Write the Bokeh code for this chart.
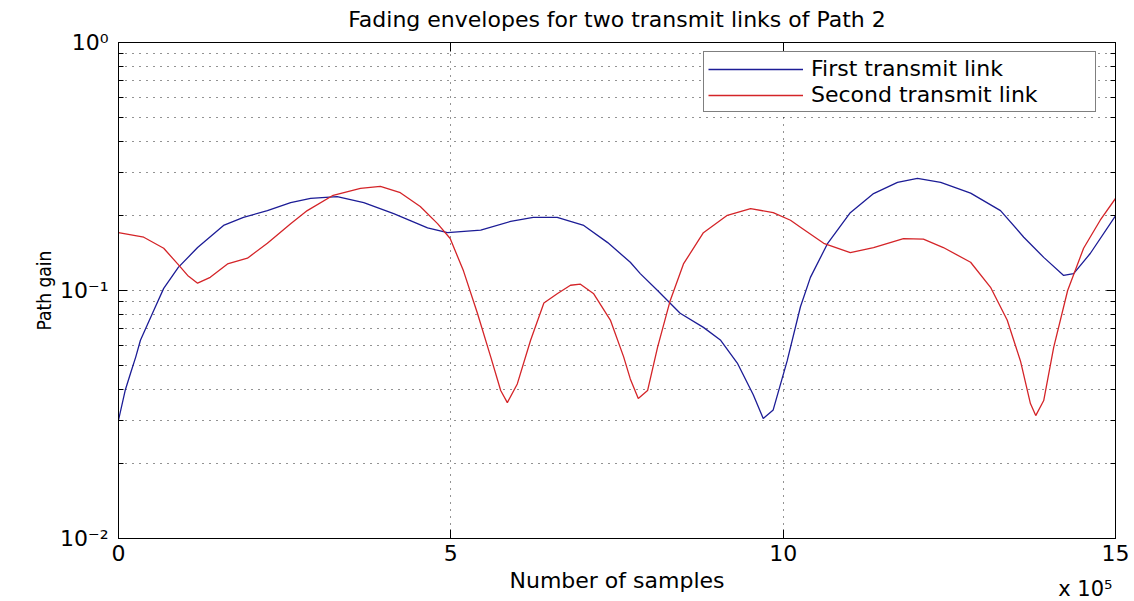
from bokeh.plotting import figure
from bokeh.models import FixedTicker, LinearAxis, LogAxis, Legend, LegendItem, Range1d, Title
from bokeh.embed import file_html
from bokeh.resources import INLINE

# ---- data (x in units of 10^5 samples) ----
x_first = [0.0, 0.10, 0.18, 0.26, 0.33, 0.53, 0.68, 0.90, 1.19, 1.58, 1.88, 2.24, 2.59, 2.89,
           3.29, 3.69, 4.14, 4.65, 4.95, 5.45, 5.90, 6.24, 6.60, 7.00, 7.36, 7.70, 7.85,
           8.11, 8.45, 8.80, 9.06, 9.31, 9.55, 9.70, 9.85, 10.06, 10.26, 10.41, 10.67,
           11.01, 11.36, 11.72, 12.02, 12.37, 12.82, 13.27, 13.62, 13.92, 14.22, 14.37,
           14.62, 15.0]
y_first = [0.030, 0.0395, 0.0463, 0.054, 0.063, 0.083, 0.102, 0.124, 0.149, 0.183, 0.197,
           0.210, 0.226, 0.235, 0.239, 0.226, 0.204, 0.179, 0.171, 0.175, 0.190, 0.197,
           0.197, 0.183, 0.156, 0.130, 0.117, 0.100, 0.081, 0.071, 0.063, 0.051, 0.038,
           0.0305, 0.033, 0.052, 0.086, 0.113, 0.155, 0.206, 0.246, 0.273, 0.283, 0.273,
           0.247, 0.210, 0.164, 0.136, 0.115, 0.117, 0.141, 0.200]

x_second = [0.0, 0.38, 0.68, 0.89, 1.04, 1.19, 1.38, 1.64, 1.94, 2.24, 2.59, 2.84, 3.23,
            3.64, 3.94, 4.24, 4.54, 4.80, 4.99, 5.19, 5.40, 5.60, 5.75, 5.85, 6.00, 6.20,
            6.40, 6.60, 6.80, 6.95, 7.15, 7.40, 7.60, 7.70, 7.82, 7.96, 8.11, 8.30, 8.50,
            8.80, 9.16, 9.51, 9.85, 10.11, 10.26, 10.61, 11.01, 11.36, 11.81, 12.11, 12.41,
            12.82, 13.12, 13.37, 13.57, 13.72, 13.80, 13.92, 14.07, 14.28, 14.52, 14.77, 15.0]
y_second = [0.171, 0.164, 0.148, 0.128, 0.115, 0.107, 0.113, 0.128, 0.135, 0.155, 0.186,
            0.210, 0.242, 0.258, 0.263, 0.248, 0.218, 0.186, 0.162, 0.120, 0.081, 0.054,
            0.0395, 0.0353, 0.042, 0.063, 0.089, 0.097, 0.105, 0.106, 0.097, 0.076, 0.054,
            0.044, 0.0367, 0.0395, 0.059, 0.091, 0.128, 0.171, 0.201, 0.214, 0.206, 0.192,
            0.180, 0.155, 0.142, 0.149, 0.162, 0.161, 0.149, 0.130, 0.103, 0.076, 0.052,
            0.035, 0.0313, 0.036, 0.059, 0.100, 0.148, 0.192, 0.235]

x_ticks = [0, 5, 10, 15]
y_major = [0.01, 0.1, 1.0]
y_minor = [0.02, 0.03, 0.04, 0.05, 0.06, 0.07, 0.08, 0.09,
           0.2, 0.3, 0.4, 0.5, 0.6, 0.7, 0.8, 0.9]
y_labels = {0.01: "10⁻²", 0.1: "10⁻¹", 1.0: "10⁰"}

title_text = "Fading envelopes for two transmit links of Path 2"
x_label = "Number of samples"
y_label = "Path gain"
x_multiplier = "x 10⁵"
series_names = ["First transmit link", "Second transmit link"]

FONT = "DejaVu Sans"
FS = "22px"

p = figure(width=1134, height=601, y_axis_type="log",
           x_range=Range1d(0, 15), y_range=Range1d(0.01, 1),
           output_backend="svg", toolbar_location=None,
           min_border_left=118, min_border_right=19, min_border_top=42, min_border_bottom=63)
p.background_fill_color = "white"
p.border_fill_color = "white"
p.outline_line_color = "black"
p.outline_line_width = 1

p.title.text = title_text
p.title.text_font = FONT
p.title.text_font_size = FS
p.title.text_font_style = "normal"
p.title.align = "center"
p.title.text_color = "black"
p.title.standoff = 0

xt = FixedTicker(ticks=x_ticks, minor_ticks=[])
yt = FixedTicker(ticks=y_major, minor_ticks=y_minor)

xa = p.xaxis[0]
xa.ticker = xt
xa.axis_label = x_label
ya = p.yaxis[0]
ya.ticker = yt
ya.major_label_overrides = y_labels
ya.axis_label = y_label

for ax in (xa, ya):
    ax.axis_line_color = "black"
    ax.major_tick_line_color = "black"
    ax.minor_tick_line_color = "black"
    ax.major_tick_in = 9
    ax.major_tick_out = 0
    ax.minor_tick_in = 5
    ax.minor_tick_out = 0
    ax.major_label_text_font = FONT
    ax.major_label_text_font_size = FS
    ax.major_label_text_color = "black"
    ax.axis_label_text_font_style = "normal"
    ax.axis_label_text_color = "black"

xa.major_label_standoff = 6
xa.axis_label_text_font = FONT
xa.axis_label_text_font_size = FS
xa.axis_label_standoff = 4
ya.major_label_standoff = 10
ya.axis_label_text_font = "Liberation Sans Narrow, DejaVu Sans Condensed, sans-serif"
ya.axis_label_text_font_size = "19px"
ya.axis_label_standoff = 2

# tick marks on the top and right edges (MATLAB box style), labels left empty
top = LinearAxis(ticker=xt, major_label_overrides={t: "" for t in x_ticks},
                 major_label_text_font_size="2px", major_label_standoff=0,
                 major_tick_in=9, major_tick_out=0, minor_tick_out=0, minor_tick_in=0,
                 axis_line_color="black", major_tick_line_color="black")
# invisible spacer axis that lifts the title away from the frame
top_gap = LinearAxis(ticker=xt, major_label_overrides={t: "" for t in x_ticks},
                     major_label_text_font_size="2px", major_label_standoff=0,
                     major_tick_in=0, major_tick_out=11, minor_tick_out=0, minor_tick_in=0,
                     axis_line_color=None, major_tick_line_color=None, minor_tick_line_color=None)
right = LogAxis(ticker=yt, major_label_overrides={t: "" for t in y_major},
                major_label_text_font_size="2px", major_label_standoff=0,
                major_tick_in=9, major_tick_out=0, minor_tick_in=5, minor_tick_out=0,
                axis_line_color="black", major_tick_line_color="black",
                minor_tick_line_color="black")
p.add_layout(top, "above")
p.add_layout(top_gap, "above")
p.add_layout(right, "right")

# the x10^5 multiplier under the right end of the x axis
mult = Title(text=x_multiplier, align="right", vertical_align="top", standoff=-38, offset=3,
             text_font=FONT, text_font_size="21px", text_font_style="normal", text_color="black")
p.add_layout(mult, "below")

for g in (p.xgrid[0], p.ygrid[0]):
    g.grid_line_color = "black"
    g.grid_line_alpha = 0.85
    g.grid_line_dash = "1 6"
    g.grid_line_width = 1
p.ygrid[0].minor_grid_line_color = "black"
p.ygrid[0].minor_grid_line_alpha = 0.85
p.ygrid[0].minor_grid_line_dash = "1 6"

r1 = p.line(x_first, y_first, line_color="#1c1c96", line_width=1.3)
r2 = p.line(x_second, y_second, line_color="#d42428", line_width=1.3)

legend = Legend(items=[LegendItem(label=series_names[0], renderers=[r1]),
                       LegendItem(label=series_names[1], renderers=[r2])],
                location=(585, 426))
legend.label_text_font = FONT
legend.label_text_font_size = FS
legend.label_text_color = "black"
legend.border_line_color = "black"
legend.border_line_width = 1
legend.background_fill_color = "white"
legend.background_fill_alpha = 1
legend.glyph_width = 95
legend.glyph_height = 22
legend.label_height = 22
legend.label_width = 280
legend.label_standoff = 8
legend.padding = 4
legend.spacing = 1
legend.margin = 0
p.add_layout(legend, "center")

open("out.html", "w").write(file_html(p, INLINE))
